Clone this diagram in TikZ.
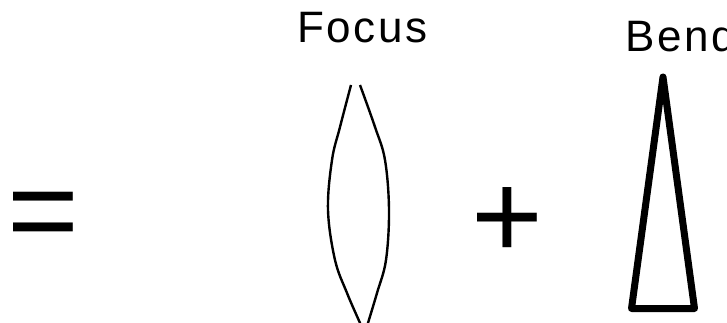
\documentclass[tikz,border=0pt]{standalone}
\usepackage{fontspec}
\setmainfont{Liberation Sans}
\newfontfamily\lblfont[LetterSpace=6]{Liberation Sans}
\begin{document}
\begin{tikzpicture}[x=1pt,y=-1pt,
  lbl/.style={inner sep=0pt, anchor=base west, font=\fontsize{44}{52}\lblfont},
  bigsym/.style={inner sep=0pt, anchor=center, font=\fontsize{123}{130}\selectfont},
  lensline/.style={line width=2.4pt},
  prismline/.style={line width=7pt, line join=round, line cap=round}]
\useasboundingbox (0,0) rectangle (727,323);
\clip (0,0) rectangle (727,323);
\node[bigsym] (eq) at (43,222) {=};
\node[bigsym] (plus) at (507,223) {+};
\node[lbl] (focus) at (297,43) {Focus};
\node[lbl] (bend) at (625,52) {Bend};
\draw[lensline] plot[smooth, tension=0.6] coordinates {(351,85) (340,127) (332,160) (328,210) (335,260) (347,293) (360,323) (363,330)};
\draw[lensline] plot[smooth, tension=0.6] coordinates {(360,85) (375,127) (385,160) (389,210) (386,260) (377,293) (368,323) (366,330)};
\draw[prismline] (663,77) -- (694.5,308.5) -- (631.5,308.5) -- cycle;
\end{tikzpicture}
\end{document}
